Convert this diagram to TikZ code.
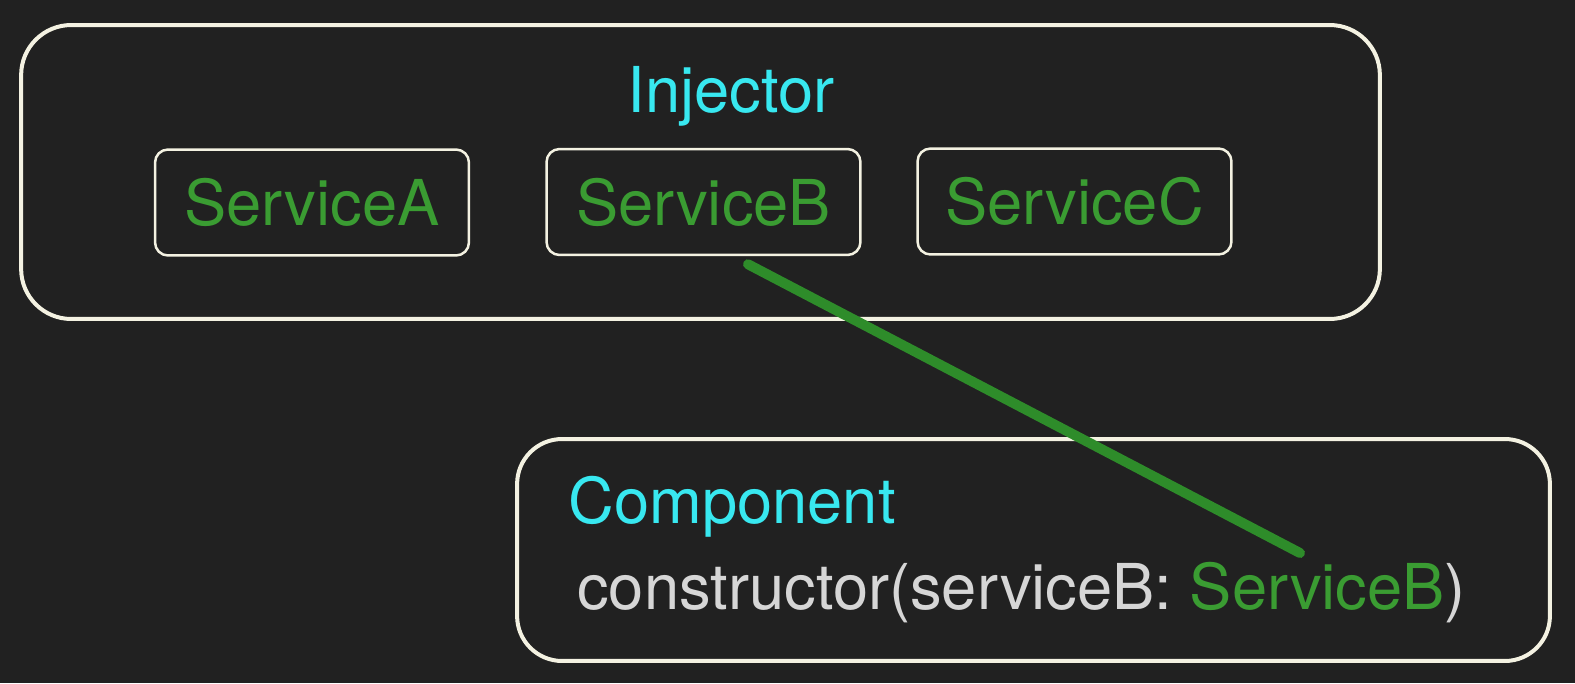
\documentclass[tikz,border=0pt]{standalone}
\usepackage{fontspec}
\setmainfont{TeX Gyre Heros}
\usetikzlibrary{positioning, calc, backgrounds}
\definecolor{slide}{HTML}{212121}
\definecolor{chalk}{HTML}{F4F2E2}
\definecolor{cyanlabel}{HTML}{38E8F0}
\definecolor{servgreen}{HTML}{3A9C32}
\definecolor{wiregreen}{HTML}{2E8C2A}
\definecolor{codegrey}{HTML}{D6D6D6}
\tikzset{
	bigbox/.style={draw=chalk, line width=0.08cm, rounded corners=1cm, inner sep=0pt},
	servbox/.style={draw=chalk, line width=0.05cm, rounded corners=0.26cm, inner sep=0pt,
		minimum width=6.28cm, minimum height=2.12cm, text=servgreen,
		font=\fontsize{36}{43}\selectfont},
	title/.style={text=cyanlabel, inner sep=0pt, anchor=base west, font=\fontsize{36}{43}\selectfont},
	code/.style={text=codegrey, inner sep=0pt, anchor=base west, font=\fontsize{36}{43}\selectfont}
}

\begin{document}
\begin{tikzpicture}[x=0.02cm, y=-0.02cm]
	\fill[slide] (0,0) rectangle (1575,683);
	\useasboundingbox (0,0) rectangle (1575,683);
	% injector
	\node[bigbox, minimum width=27.18cm, minimum height=5.88cm] (injector) at (700.5,172) {};
	\node[title, anchor=base] (injlabel) at (731,112) {Injector};
	\node[servbox] (serviceA) at (312,202.5) {ServiceA};
	\node[servbox] (serviceB) at (703.5,202) {ServiceB};
	\node[servbox] (serviceC) at (1074.5,201.5) {ServiceC};
	% component
	\node[bigbox, minimum width=20.66cm, minimum height=4.44cm, rounded corners=0.9cm] (component) at (1033.5,550) {};
	\node[title] (complabel) at (568,523) {Component};
	\node[code] (ctor) at (577,609) {constructor(serviceB: \textcolor{servgreen}{ServiceB})};
	% wire
	\coordinate (wirestart) at ($(serviceB.south)+(44.5,8)$);
	\coordinate (wireend) at (1300,553);
	\draw[wiregreen, line width=0.2cm, line cap=round] (wirestart) -- (wireend);
\end{tikzpicture}
\end{document}
